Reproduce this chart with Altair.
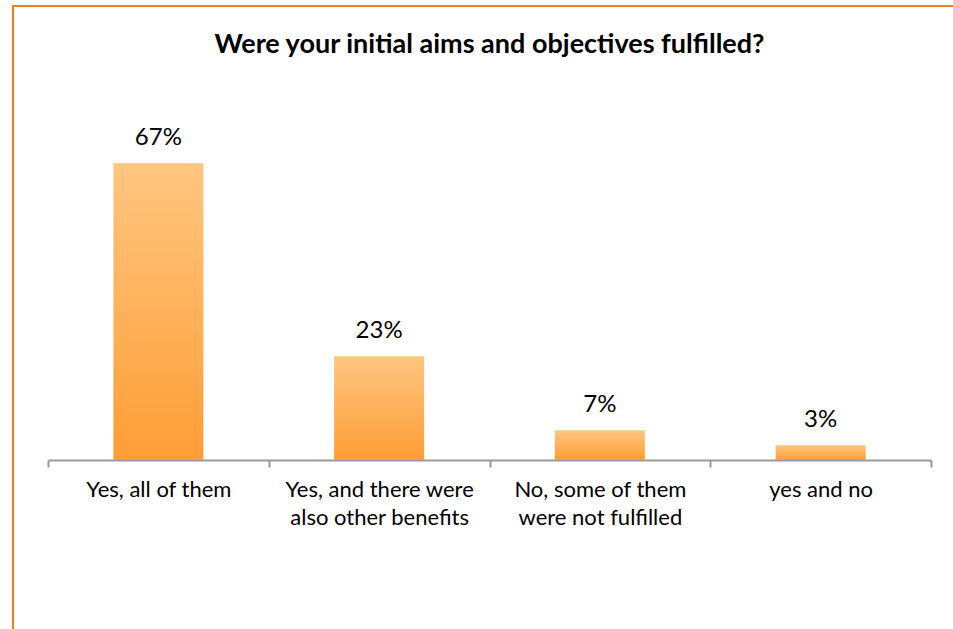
import altair as alt
import pandas as pd

title_text = "Were your initial aims and objectives fulfilled?"
categories = ["Yes, all of them", "Yes, and there were\nalso other benefits",
              "No, some of them\nwere not fulfilled", "yes and no"]
values = [66.7, 23.3, 6.7, 3.3]
labels = ["67%", "23%", "7%", "3%"]

df = pd.DataFrame({"cat": categories, "val": values, "lab": labels})
FONT = "Lato"

x_enc = alt.X("cat:N", sort=categories, title=None,
              scale=alt.Scale(paddingInner=0, paddingOuter=0),
              axis=alt.Axis(labelExpr="split(datum.label, '\\n')", labelAngle=0,
                            labelFont=FONT, labelFontSize=22, labelColor="#000",
                            labelLineHeight=28, labelPadding=12, labelBaseline="top",
                            labelLimit=0,
                            tickBand="extent", tickSize=7, tickColor="#999", tickWidth=2,
                            domainColor="#999", domainWidth=2, grid=False))
y_enc = alt.Y("val:Q", scale=alt.Scale(domain=[0, 80]), axis=None)

grad = alt.Gradient(gradient="linear", x1=0, y1=0, x2=0, y2=1,
                    stops=[alt.GradientStop(color="#FFC680", offset=0),
                           alt.GradientStop(color="#FF9D35", offset=1)])

bars = alt.Chart(df).mark_bar(size=90, color=grad).encode(x=x_enc, y=y_enc)
text = alt.Chart(df).mark_text(font=FONT, fontSize=24, baseline="bottom", dy=-13,
                               color="#000").encode(
    x=alt.X("cat:N", sort=categories), y=alt.Y("val:Q"), text="lab:N")

deco = alt.Chart(pd.DataFrame({"t": [title_text]}))
border = deco.mark_rect(fill=None, stroke="#F07F20", strokeWidth=2).encode(
    x=alt.value(-35), x2=alt.value(1000), y=alt.value(-98), y2=alt.value(700))
title = deco.mark_text(font=FONT, fontSize=27, fontWeight="bold", color="#000",
                       align="center", baseline="middle").encode(
    x=alt.value(441.5), y=alt.value(-59), text="t:N")

chart = alt.layer(border, bars, text, title).properties(
    width=883, height=356,
    autosize=alt.AutoSizeParams(type="none"),
    padding={"left": 48, "top": 104, "right": 22, "bottom": 169},
).configure(background="white", view=alt.ViewConfig(stroke=None))

chart.save("out.html", embed_options={"renderer": "svg", "actions": False})
